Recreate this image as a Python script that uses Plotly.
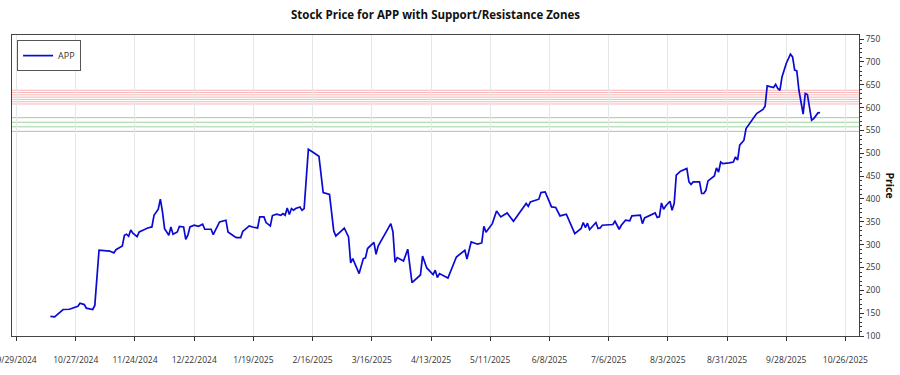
import plotly.graph_objects as go

# ---- data ----
dates = [
    "2024-10-15", "2024-10-17", "2024-10-21", "2024-10-24", "2024-10-28", "2024-10-29", "2024-10-31",
    "2024-11-01", "2024-11-04", "2024-11-05", "2024-11-07", "2024-11-11", "2024-11-12", "2024-11-14",
    "2024-11-15", "2024-11-18", "2024-11-19", "2024-11-20", "2024-11-21", "2024-11-22", "2024-11-23",
    "2024-11-25", "2024-11-26", "2024-11-28", "2024-11-30", "2024-12-02", "2024-12-03", "2024-12-05",
    "2024-12-06", "2024-12-07", "2024-12-08", "2024-12-10", "2024-12-11", "2024-12-12", "2024-12-14",
    "2024-12-15", "2024-12-17", "2024-12-18", "2024-12-19", "2024-12-20", "2024-12-22", "2024-12-24",
    "2024-12-26", "2024-12-27", "2024-12-30", "2024-12-31", "2025-01-01", "2025-01-03", "2025-01-06",
    "2025-01-07", "2025-01-10", "2025-01-11", "2025-01-13", "2025-01-14", "2025-01-15", "2025-01-17",
    "2025-01-19", "2025-01-21", "2025-01-22", "2025-01-24", "2025-01-25", "2025-01-27", "2025-01-28",
    "2025-01-30", "2025-02-01", "2025-02-02", "2025-02-03", "2025-02-04", "2025-02-05", "2025-02-06",
    "2025-02-07", "2025-02-08", "2025-02-10", "2025-02-11", "2025-02-12", "2025-02-14", "2025-02-16",
    "2025-02-17", "2025-02-19", "2025-02-21", "2025-02-24", "2025-02-26", "2025-02-27", "2025-03-03",
    "2025-03-05", "2025-03-06", "2025-03-07", "2025-03-10", "2025-03-12", "2025-03-13", "2025-03-14",
    "2025-03-17", "2025-03-18", "2025-03-19", "2025-03-25", "2025-03-26", "2025-03-27", "2025-03-28",
    "2025-03-31", "2025-04-02", "2025-04-04", "2025-04-08", "2025-04-09", "2025-04-11", "2025-04-14",
    "2025-04-15", "2025-04-16", "2025-04-17", "2025-04-21", "2025-04-25", "2025-04-29", "2025-04-30",
    "2025-05-02", "2025-05-05", "2025-05-07", "2025-05-08", "2025-05-09", "2025-05-12", "2025-05-14",
    "2025-05-16", "2025-05-19", "2025-05-22", "2025-05-28", "2025-05-29", "2025-05-30", "2025-06-03",
    "2025-06-04", "2025-06-06", "2025-06-09", "2025-06-11", "2025-06-13", "2025-06-16", "2025-06-20",
    "2025-06-23", "2025-06-24", "2025-06-25", "2025-06-26", "2025-06-27", "2025-06-30", "2025-07-01",
    "2025-07-02", "2025-07-03", "2025-07-08", "2025-07-09", "2025-07-11", "2025-07-12", "2025-07-14",
    "2025-07-16", "2025-07-17", "2025-07-21", "2025-07-22", "2025-07-23", "2025-07-26", "2025-07-28",
    "2025-07-29", "2025-07-30", "2025-07-31", "2025-08-01", "2025-08-02", "2025-08-04", "2025-08-05",
    "2025-08-06", "2025-08-07", "2025-08-09", "2025-08-12", "2025-08-13", "2025-08-14", "2025-08-15",
    "2025-08-18", "2025-08-19", "2025-08-20", "2025-08-21", "2025-08-22", "2025-08-24", "2025-08-25",
    "2025-08-26", "2025-08-27", "2025-08-28", "2025-08-29", "2025-09-01", "2025-09-03", "2025-09-04",
    "2025-09-05", "2025-09-06", "2025-09-08", "2025-09-09", "2025-09-12", "2025-09-13", "2025-09-14",
    "2025-09-17", "2025-09-18", "2025-09-19", "2025-09-22", "2025-09-23", "2025-09-24", "2025-09-25",
    "2025-09-26", "2025-09-28", "2025-09-30", "2025-10-01", "2025-10-02", "2025-10-03", "2025-10-04",
    "2025-10-06", "2025-10-07", "2025-10-08", "2025-10-10", "2025-10-11", "2025-10-13", "2025-10-14",
]

prices = [
    143, 142, 158, 158.5, 165, 171.6, 168.8,
    161, 158, 167, 288, 285.5, 286, 282,
    289, 297, 320.6, 322.8, 318.4, 332, 325,
    317.7, 327.8, 332, 336.6, 338.8, 364.4, 377.5,
    399.5, 371.6, 335, 320.6, 338.8, 322.8, 327.8,
    340, 338.8, 311.8, 320.6, 338.8, 342.5, 340.3,
    344.7, 333.7, 333.7, 322, 331.5, 349.7, 353.5,
    327.8, 317.7, 315.5, 315.5, 329.4, 333, 341,
    338, 336.6, 360.7, 360.7, 348.4, 341, 363.7,
    366.6, 364.4, 368, 364.4, 380.4, 366, 379,
    375.4, 379, 382.6, 375.4, 379, 509, 503,
    499.6, 493.6, 414, 409.8, 330, 319, 336,
    317, 260, 269.5, 236.7, 269.5, 271, 291.5,
    305, 279, 297, 346, 327.8, 261.4, 271.7,
    264.3, 290, 217, 233.6, 275, 249, 234.5,
    244, 228, 236.7, 227, 273, 287.7, 268.7,
    306, 301, 303.7, 340.3, 327, 346, 373.8,
    360.7, 369.4, 351, 390, 384, 393.5, 399.5,
    414, 415.4, 382.6, 381.3, 362.9, 366.6, 324.3,
    335.3, 348.4, 337.5, 346.9, 333, 348.4, 335.3,
    336.6, 342.5, 344, 351.2, 333.7, 342.5, 353.5,
    352, 363, 364.4, 346, 358.5, 364.4, 369.4,
    359.4, 360.7, 391.3, 377.5, 384.8, 395, 375.4,
    390, 452, 460.8, 466.7, 437.4, 431.7, 437.4,
    437.4, 412, 412, 419, 439.5, 446, 450.5,
    468, 459, 481, 477.5, 479, 481, 492,
    485, 517.7, 528.7, 554, 572.5, 578.4, 587,
    596, 603, 647.6, 644, 650.7, 642, 638,
    667, 696.7, 717, 711, 682, 680.5, 638,
    585.7, 631, 628.8, 572.5, 576, 588.5, 589,
]

resistance_levels = [608, 613, 618, 623, 628, 633, 638]
support_levels = [548, 558, 568, 578]

ticker = "APP"
chart_title = "Stock Price for APP with Support/Resistance Zones"
y_title = "Price"

# ---- figure ----
fig = go.Figure()
fig.add_trace(go.Scatter(
    x=dates, y=prices, mode="lines", name=ticker,
    line=dict(color="#0a0ad2", width=1.7),
))

shapes = []
for lvl in resistance_levels:
    shapes.append(dict(type="line", xref="paper", x0=0, x1=1, yref="y", y0=lvl, y1=lvl,
                       line=dict(color="rgba(235,60,60,0.38)", width=1), layer="below"))
for lvl in support_levels:
    shapes.append(dict(type="line", xref="paper", x0=0, x1=1, yref="y", y0=lvl, y1=lvl,
                       line=dict(color="rgba(40,150,40,0.45)", width=1), layer="below"))

fig.update_layout(
    width=900, height=375,
    margin=dict(l=12, r=41, t=35, b=39, autoexpand=False),
    paper_bgcolor="white", plot_bgcolor="white",
    font=dict(family="Open Sans, Noto Sans, sans-serif", size=9, color="#333"),
    title=dict(text="<b>" + chart_title + "</b>", x=0.5, xref="paper", xanchor="center",
               y=0.96, yref="container", yanchor="middle",
               font=dict(size=11.5, color="#111")),
    shapes=shapes,
    showlegend=True,
    legend=dict(x=0.006, y=0.983, xanchor="left", yanchor="top",
                bgcolor="white", bordercolor="#555", borderwidth=1,
                font=dict(size=9, color="#333"), itemwidth=30),
    xaxis=dict(
        type="date",
        range=["2024-09-26 20:00", "2025-11-01 10:00"],
        tick0="2024-09-29", dtick=28 * 86400000,
        tickformat="%-m/%-d/%Y",
        showgrid=True, gridcolor="#e6e6e6", gridwidth=1,
        ticks="outside", ticklen=4, tickcolor="#333",
        showline=True, linecolor="#444", linewidth=1, mirror=True,
        ticklabelstandoff=12, ticklabeloverflow="allow",
        tickfont=dict(size=8.5, color="#333"),
        zeroline=False, automargin=False,
    ),
    yaxis=dict(
        side="right",
        range=[100, 759],
        tick0=100, dtick=50,
        showgrid=False,
        ticks="outside", ticklen=4, tickcolor="#333",
        minor=dict(ticks="outside", dtick=10, ticklen=2, tickcolor="#333"),
        showline=True, linecolor="#444", linewidth=1, mirror=True,
        tickfont=dict(size=8.5, color="#333"),
        zeroline=False, automargin=False,
    ),
    annotations=[dict(
        text="<b>" + y_title + "</b>", xref="paper", yref="paper",
        x=1, y=0.5, xanchor="center", yanchor="middle", xshift=31,
        textangle=90, showarrow=False, font=dict(size=10.5, color="#111"),
    )],
)

fig.write_html("out.html",
               config={"displayModeBar": False},
               post_script="document.body.style.margin='0';document.body.style.overflow='hidden';")
